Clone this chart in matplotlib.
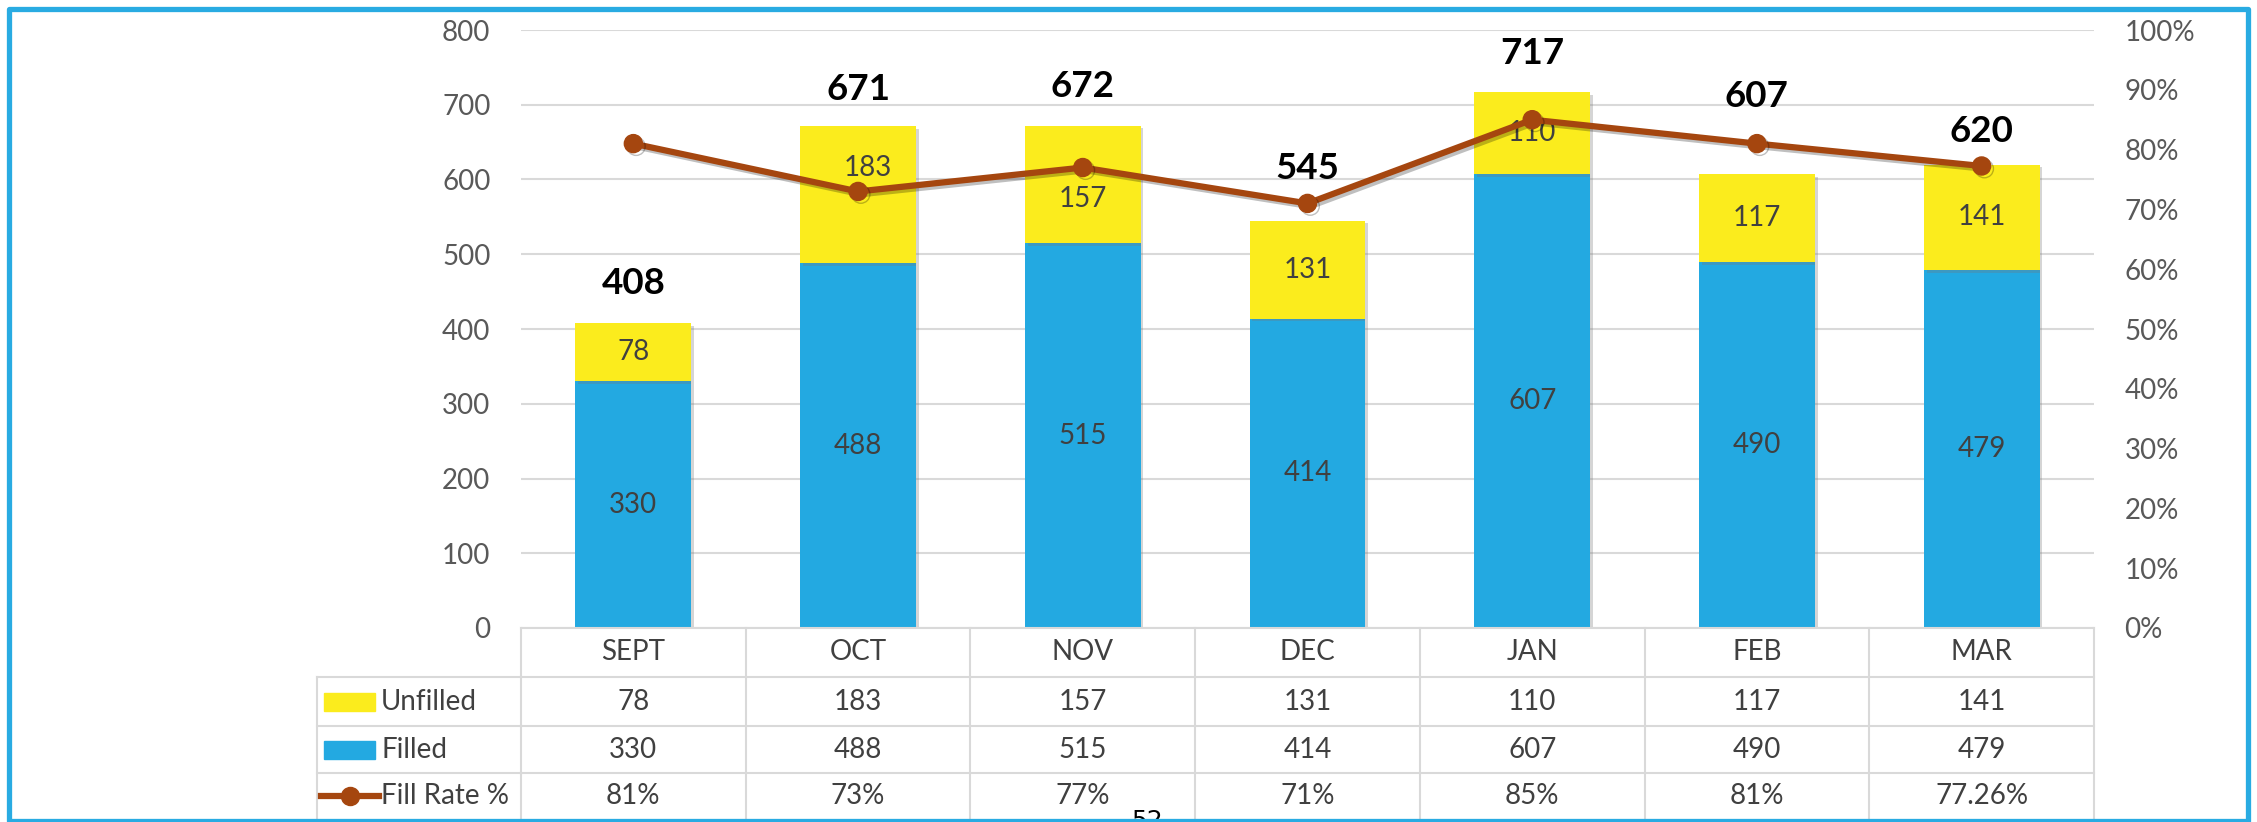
import numpy as np
import matplotlib
matplotlib.use('Agg')
import matplotlib.pyplot as plt
from matplotlib import transforms, patheffects
from matplotlib.lines import Line2D
from matplotlib.patches import Rectangle
from matplotlib.ticker import PercentFormatter

plt.rcParams['font.family'] = ['Lato', 'DejaVu Sans']

# Data
months = ['SEPT', 'OCT', 'NOV', 'DEC', 'JAN', 'FEB', 'MAR']
unfilled = [78, 183, 157, 131, 110, 117, 141]
filled = [330, 488, 515, 414, 607, 490, 479]
fill_rate = [0.81, 0.73, 0.77, 0.71, 0.85, 0.81, 0.7726]
fill_rate_labels = ['81%', '73%', '77%', '71%', '85%', '81%', '77.26%']

# Styles
BLUE = '#23A9E1'
YELLOW = '#FBEC1D'
BROWN = '#A5460F'
GRID = '#D9D9D9'
TICK = '#595959'
TEXT = '#404040'
BORDER = '#29ABE2'

# how far (px) each total label sits above its bar
total_label_lift = [40, 37, 39, 52, 39, 78, 33]
# hand-moved unfilled labels (px right, px up), as in the original
unfilled_nudge = [(0, 0), (10, 27), (0, -15), (0, 0), (0, 0), (0, 0), (0, 0)]

W, H = 2257, 822
fig = plt.figure(figsize=(W / 100, H / 100), dpi=100)


def fx(p):
    return p / W


def fy(p):
    return 1 - p / H


# plot area in pixels
PL, PR, PT, PB = 521, 2094, 30, 628
ax = fig.add_axes([fx(PL), fy(PB), (PR - PL) / W, (PB - PT) / H])

x = np.arange(len(months))
bar_w = 0.515
shadow = [patheffects.withSimplePatchShadow(offset=(2, -2), shadow_rgbFace='#777777', alpha=0.3)]

bars_f = ax.bar(x, filled, width=bar_w, color=BLUE, zorder=2, path_effects=shadow)
bars_u = ax.bar(x, unfilled, width=bar_w, bottom=filled, color=YELLOW, zorder=2,
                path_effects=shadow)
ax.bar_label(bars_f, label_type='center', fontsize=20, color=TEXT)
for i, u in enumerate(unfilled):
    dx, dy = unfilled_nudge[i]
    ax.annotate(str(u), (x[i], filled[i] + u / 2), xytext=(dx / 1.389, dy / 1.389),
                textcoords='offset points', ha='center', va='center',
                fontsize=20, color=TEXT, zorder=5)

# totals above bars
totals = [f + u for f, u in zip(filled, unfilled)]
for i, t in enumerate(totals):
    ax.annotate(str(t), (x[i], t), xytext=(0, total_label_lift[i] / 1.389),
                textcoords='offset points', ha='center', va='center',
                fontsize=26.5, fontweight='bold', color='black', zorder=5)

ax.set_xlim(-0.5, len(months) - 0.5)
ax.set_ylim(0, 800)
ax.set_yticks(range(0, 801, 100))
ax.set_xticks([])
ax.set_axisbelow(True)
ax.yaxis.grid(True, color=GRID, lw=1.5)
ax.tick_params(axis='y', length=0, pad=22, labelsize=20, labelcolor=TICK)
for s in ['top', 'left', 'right']:
    ax.spines[s].set_visible(False)
ax.spines['bottom'].set_color(GRID)
ax.spines['bottom'].set_linewidth(1.5)

# fill rate line on the right axis
ax2 = ax.twinx()
ax2.plot(x, fill_rate, color=BROWN, lw=4.5, marker='o', ms=13, zorder=3,
         path_effects=[patheffects.SimpleLineShadow(offset=(2, -2), alpha=0.25),
                       patheffects.Normal()])
ax2.set_ylim(0, 1)
ax2.set_yticks(np.linspace(0, 1, 11))
ax2.yaxis.set_major_formatter(PercentFormatter(1.0, decimals=0))
ax2.tick_params(axis='y', length=0, pad=22, labelsize=20, labelcolor=TICK)
for s in ax2.spines.values():
    s.set_visible(False)

# data table under the chart
blend = transforms.blended_transform_factory(ax.transData, fig.transFigure)
rows = [628, 677, 726, 773, 818]
LEG_L = 317


def tline(xs, ys, transform):
    fig.add_artist(Line2D(xs, ys, color=GRID, lw=1.5, transform=transform))


for b in np.arange(-0.5, len(months)):
    tline([b, b], [fy(rows[0]), fy(rows[-1])], blend)
for r in rows[1:4]:
    tline([-0.5, len(months) - 0.5], [fy(r), fy(r)], blend)
    tline([fx(LEG_L), fx(PL)], [fy(r), fy(r)], fig.transFigure)
tline([fx(LEG_L), fx(LEG_L)], [fy(rows[1]), fy(rows[-1])], fig.transFigure)

row_vals = [months, [str(v) for v in unfilled], [str(v) for v in filled], fill_rate_labels]
for k, vals in enumerate(row_vals):
    yc = fy((rows[k] + rows[k + 1]) / 2) if k < 3 else fy(796)
    for i, v in enumerate(vals):
        fig.text(x[i], yc, v, transform=blend, ha='center', va='center',
                 fontsize=20, color=TEXT)

# legend column
leg_names = ['Unfilled', 'Filled', 'Fill Rate %']
for k, name in enumerate(leg_names):
    yc = (rows[k + 1] + rows[k + 2]) / 2 if k < 2 else 796
    if k < 2:
        fig.add_artist(Rectangle((fx(324), fy(yc + 9)), fx(375) - fx(324), 18 / H,
                                 color=[YELLOW, BLUE][k], transform=fig.transFigure))
    else:
        fig.add_artist(Line2D([fx(321), fx(379)], [fy(yc), fy(yc)], color=BROWN, lw=4.5,
                              transform=fig.transFigure))
        fig.add_artist(Line2D([fx(350)], [fy(yc)], color=BROWN, marker='o', ms=13,
                              transform=fig.transFigure))
    fig.text(fx(381), fy(yc), name, ha='left', va='center', fontsize=20, color=TEXT)

# stray page number peeking under the frame
fig.text(fx(1147), fy(809), '52', ha='center', va='top', fontsize=18, color='black',
         family='DejaVu Sans', zorder=5)

# blue outer frame
fig.add_artist(Rectangle((fx(9), fy(821)), fx(2248) - fx(9), (821 - 9) / H, fill=False,
                         ec=BORDER, lw=3.8, joinstyle='round', transform=fig.transFigure,
                         zorder=10))

fig.savefig('out.png', dpi=100)
